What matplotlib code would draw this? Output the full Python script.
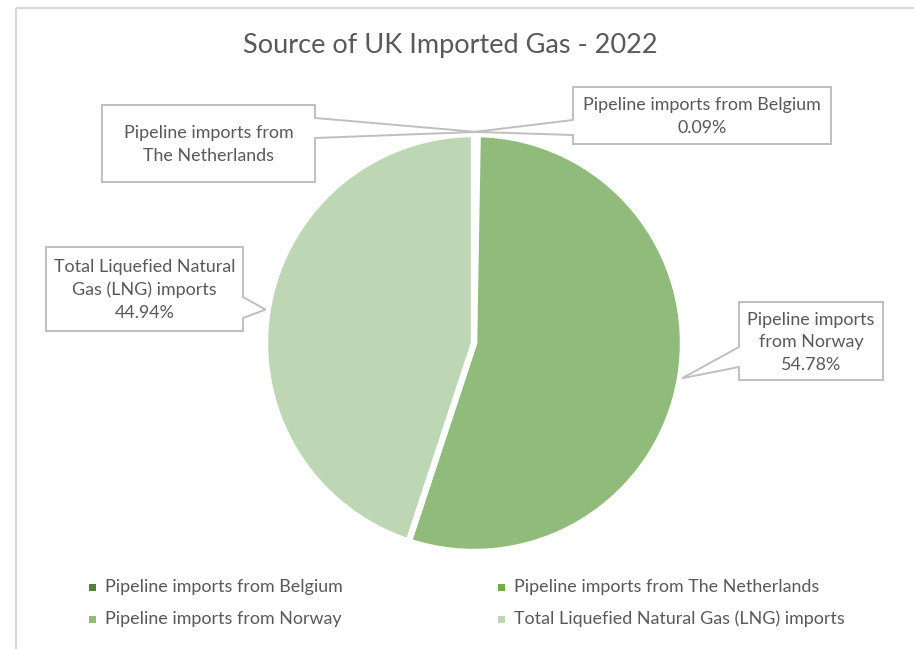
import numpy as np
import matplotlib.pyplot as plt
from matplotlib.patches import Polygon, Rectangle

plt.rcParams['font.family'] = ['Lato', 'DejaVu Sans']

# UK gas imports by source, 2022 (share of total, %)
sources = ['Pipeline imports from Belgium',
           'Pipeline imports from The Netherlands',
           'Pipeline imports from Norway',
           'Total Liquefied Natural Gas (LNG) imports']
shares = [0.09, 0.19, 54.78, 44.94]
colors = ['#548235', '#70AD47', '#91BB7A', '#BDD6B3']
callout_text = ['Pipeline imports from Belgium\n0.09%',
                'Pipeline imports from\nThe Netherlands',
                'Pipeline imports\nfrom Norway\n54.78%',
                'Total Liquefied Natural\nGas (LNG) imports\n44.94%']

TXT = '#595959'
LINE = '#BFBFBF'
W, H, DPI = 914, 649, 100

fig = plt.figure(figsize=(W / DPI, H / DPI), dpi=DPI)

# overlay in pixel units (y pointing down) for frame, callouts and legend
ov = fig.add_axes([0, 0, 1, 1], zorder=3)
ov.set_xlim(0, W)
ov.set_ylim(H, 0)
ov.axis('off')
ov.patch.set_alpha(0)

# pie centred at (474, 343), radius ~209 px
cx, cy, r = 474, 343, 209
ax = fig.add_axes([(cx - r) / W, (H - cy - r) / H, 2 * r / W, 2 * r / H], zorder=1)
wedges, _ = ax.pie(shares, colors=colors, startangle=90, counterclock=False,
                   radius=1, wedgeprops=dict(edgecolor='white', linewidth=4.6))
ax.set_xlim(-1, 1)
ax.set_ylim(-1, 1)
ax.set_aspect('equal')
ax.axis('off')

# chart frame
ov.add_patch(Rectangle((16, 8), 920, 660, fill=False, edgecolor='#D9D9D9', lw=1.6))

ov.text(450, 45, 'Source of UK Imported Gas - 2022', ha='center', va='center',
        fontsize=19.5, color=TXT)

# callout boxes: (x0, y0, x1, y1), side of pointer, pointer base span
boxes = [((573, 87, 831, 144), 'left', (120, 135)),
         ((102, 105, 315, 182), 'right', (118, 138)),
         ((739, 302, 883, 380), 'left', (347, 367)),
         ((46, 247, 243, 331), 'right', (297, 318))]


def to_px(x, y):
    disp = ax.transData.transform((x, y))
    return ov.transData.inverted().transform(disp)


fig.canvas.draw()
for w, txt, (box, side, (p0, p1)) in zip(wedges, callout_text, boxes):
    mid = np.deg2rad((w.theta1 + w.theta2) / 2)
    tip = to_px(1.01 * np.cos(mid), 1.01 * np.sin(mid))
    x0, y0, x1, y1 = box
    if side == 'right':
        pts = [(x0, y0), (x1, y0), (x1, p0), tuple(tip), (x1, p1), (x1, y1), (x0, y1)]
    else:
        pts = [(x0, y0), (x1, y0), (x1, y1), (x0, y1), (x0, p1), tuple(tip), (x0, p0)]
    ov.add_patch(Polygon(pts, closed=True, facecolor='white', edgecolor=LINE, lw=1.4))
    ov.text((x0 + x1) / 2, (y0 + y1) / 2 + 1, txt, ha='center', va='center',
            fontsize=12.9, color=TXT, linespacing=1.5)

# legend, two columns
for i, (name, c) in enumerate(zip(sources, colors)):
    lx = 89 + 409 * (i % 2)
    ly = 587 + 32 * (i // 2)
    ov.add_patch(Rectangle((lx, ly - 3.5), 7, 7, facecolor=c, edgecolor='none'))
    ov.text(lx + 16, ly, name, ha='left', va='center', fontsize=12.9, color=TXT)

fig.savefig('out.png', dpi=DPI, facecolor='white')
